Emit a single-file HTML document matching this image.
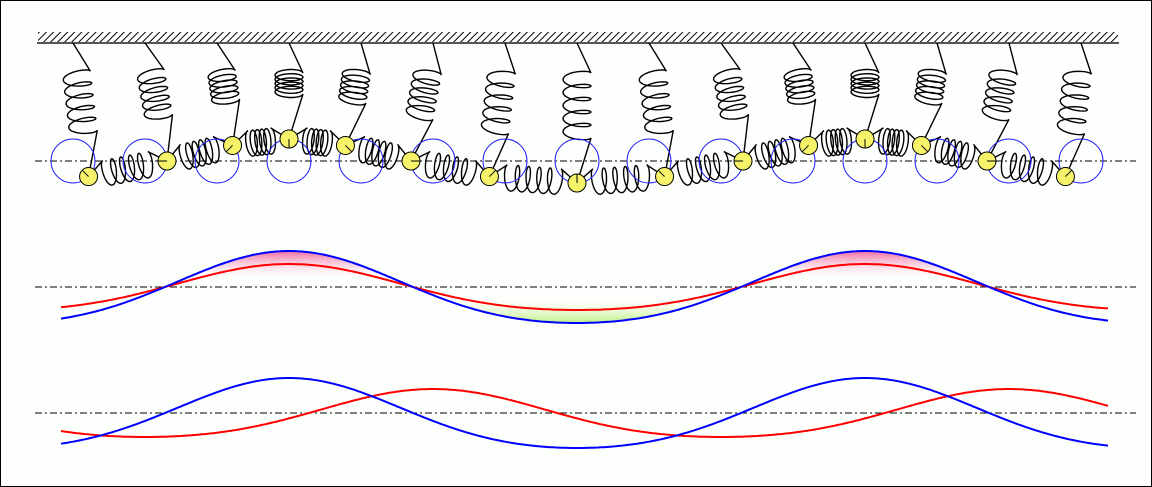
<!DOCTYPE html>
<html><head><meta charset="utf-8">
<style>
html,body{margin:0;padding:0;background:#fff}
#w{width:1150px;height:485px;border:1px solid #000;background:#fdfffd;position:relative;overflow:hidden}
svg{position:absolute;left:-1px;top:-1px}
</style></head><body>
<div id="w">
<svg id="s" width="1152" height="487" viewBox="0 0 1152 487" xmlns="http://www.w3.org/2000/svg">
<defs>
<pattern id="h" width="5" height="5" patternUnits="userSpaceOnUse" patternTransform="rotate(45)">
<rect width="5" height="5" fill="#fff"/><line x1="0" y1="0" x2="0" y2="5" stroke="#000" stroke-width="2"/>
</pattern>
<linearGradient id="pk" x1="0" y1="0" x2="0" y2="1">
<stop offset="0" stop-color="#f06aa0"/><stop offset="1" stop-color="#fff" stop-opacity="0.2"/>
</linearGradient>
<linearGradient id="gr" x1="0" y1="1" x2="0" y2="0">
<stop offset="0" stop-color="#c0f080"/><stop offset="1" stop-color="#fff" stop-opacity="0.2"/>
</linearGradient>
</defs>
<rect x="38" y="32" width="1080" height="10" fill="url(#h)"/>
<line x1="37" y1="43" x2="1119" y2="43" stroke="#555" stroke-width="2"/>
<g stroke="#000" stroke-width="1" stroke-dasharray="7,3,2,3">
<line x1="35" y1="161" x2="1136" y2="161"/>
<line x1="35" y1="287" x2="1136" y2="287"/>
<line x1="35" y1="413" x2="1136" y2="413"/>
</g>
<g id="g1"></g>
</svg>
</div>
<script>
var g=document.getElementById('g1'),NS='http://www.w3.org/2000/svg';
function el(t,a){var e=document.createElementNS(NS,t);for(var k in a)e.setAttribute(k,a[k]);g.appendChild(e);return e;}
function spring(A,B,n,w,la,lb,lenC){
 var dx=B[0]-A[0],dy=B[1]-A[1],L=Math.hypot(dx,dy),ux=dx/L,uy=dy/L,vx=-uy,vy=ux;
 var s0=la+(L-la-lb-lenC)/2;
 var p=[[A[0],A[1]]];
 var m=n*24, a=4.5;
 for(var i=0;i<=m;i++){var t=i/m,ph=2*Math.PI*n*t;
  var s=s0+t*lenC - a*Math.sin(ph);
  var q=-(w/2)*Math.cos(ph);
  p.push([A[0]+ux*s+vx*q,A[1]+uy*s+vy*q]);}
 p.push([B[0],B[1]]);
 el('path',{d:'M'+p.map(function(z){return z[0].toFixed(1)+','+z[1].toFixed(1)}).join(' L'),fill:'none',stroke:'#000','stroke-width':1.4});
}
var C=[],Bs=[];
for(var i=0;i<15;i++){var cx=73+72*i,ph=(90-45*(i+1))*Math.PI/180;C.push(cx);Bs.push([cx+22*Math.cos(ph),161+22*Math.sin(ph)]);}
for(var i=0;i<14;i++){var A=Bs[i],B=Bs[i+1],L=Math.hypot(B[0]-A[0],B[1]-A[1]);spring(A,B,5,26,10,10,Math.max(L-34,14));}
for(var i=0;i<15;i++){var A=[C[i],43],B=Bs[i],L=Math.hypot(B[0]-A[0],B[1]-A[1]);spring(A,B,5,28,30,45,Math.max(L-75,14));}
for(var i=0;i<15;i++){el('circle',{cx:C[i],cy:161,r:22,fill:'none',stroke:'#22f','stroke-width':1});}
for(var i=0;i<15;i++){var b=Bs[i];el('circle',{cx:b[0],cy:b[1],r:9,fill:'#f6f36a',stroke:'#000','stroke-width':1});
 var ph=(90-45*(i+1))*Math.PI/180;el('line',{x1:b[0],y1:b[1],x2:b[0]-9*Math.cos(ph),y2:b[1]-9*Math.sin(ph),stroke:'#000','stroke-width':1});}
function curve(f){var s='';for(var x=61;x<=1110;x+=3){s+=(x==61?'M':'L')+x+','+f(x).toFixed(1);}return s;}
var T=2*Math.PI/576;
function w(th){return Math.cos(th)+0.113*(Math.cos(2*th)-1);}
function b1(x){return 287-36*w(T*(x-289));}
function r1(x){return 287-23*w(T*(x-289));}
function b2(x){return 413-35*w(T*(x-289));}
function r2(x){return 413-24*w(T*(x-433));}
function fillReg(f,lvl,above,fill,x0,x1){var s='',on=false;
 for(var x=x0;x<=x1;x+=1){var y=f(x),ins=above?y<lvl:y>lvl;
  if(ins&&!on){s+='M'+x+','+lvl;on=true;}
  if(ins)s+='L'+x+','+y.toFixed(1);
  if(!ins&&on){s+='L'+x+','+lvl+'Z';on=false;}}
 if(on)s+='L'+x1+','+lvl+'Z';
 el('path',{d:s,fill:fill,stroke:'none'});}
fillReg(b1,278,true,'url(#pk)',61,1110);
fillReg(b1,298,false,'url(#gr)',450,710);
el('path',{d:curve(r1),fill:'none',stroke:'#f00','stroke-width':2});
el('path',{d:curve(b1),fill:'none',stroke:'#00f','stroke-width':2});
el('path',{d:curve(r2),fill:'none',stroke:'#f00','stroke-width':2});
el('path',{d:curve(b2),fill:'none',stroke:'#00f','stroke-width':2});
</script>
</body></html>
